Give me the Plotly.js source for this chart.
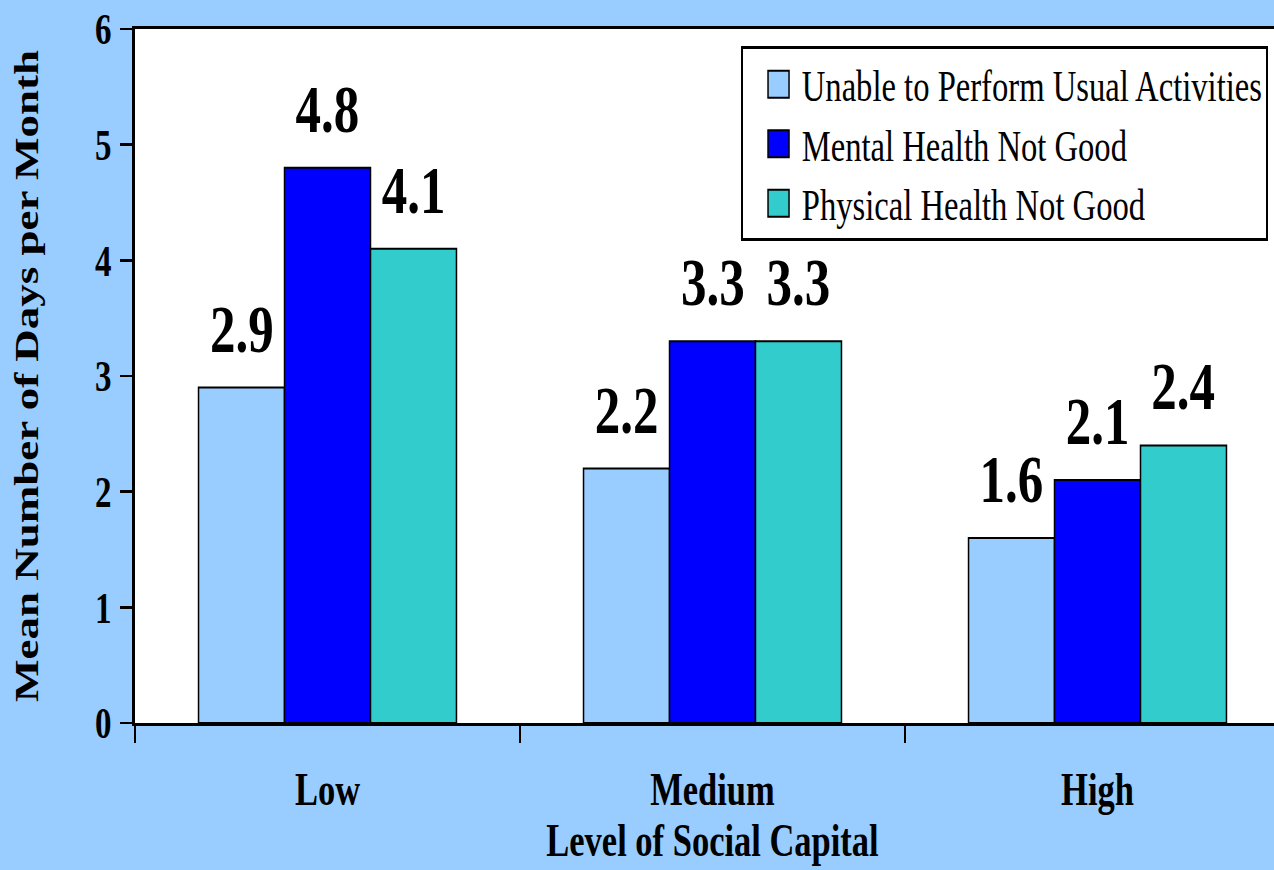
<!DOCTYPE html>
<html>
<head>
<meta charset="utf-8">
<script src="https://cdn.plot.ly/plotly-3.0.1.min.js"></script>
<style>
  html, body { margin: 0; padding: 0; width: 1274px; height: 870px; overflow: hidden; background: #99ccff; }
  /* the chart is laid out wide and squeezed horizontally, giving the condensed slide lettering */
  #chart { width: 1740px; height: 870px; transform: scaleX(0.75); transform-origin: 0 0; }
</style>
</head>
<body>
<div id="chart"></div>
<script>
const levels = ['Low', 'Medium', 'High'];
const seriesNames = ['Unable to Perform Usual Activities', 'Mental Health Not Good', 'Physical Health Not Good'];
const unableDays = [2.9, 2.2, 1.6];
const mentalDays = [4.8, 3.3, 2.1];
const physicalDays = [4.1, 3.3, 2.4];
const seriesColors = ['#99ccff', '#0000ff', '#33cccc'];
const yTicks = [0, 1, 2, 3, 4, 5, 6];

const FONT = '"Liberation Serif", "Times New Roman", Times, serif';
const BAR_GAP = 0.33;
const allSeries = [unableDays, mentalDays, physicalDays];

const traces = allSeries.map((vals, k) => ({
  type: 'bar',
  name: seriesNames[k],
  x: levels,
  y: vals,
  marker: { color: seriesColors[k], line: { color: '#000000', width: 2 } },
  hoverinfo: 'x+y+name'
}));

// value labels sit above each bar, centred on its slot within the group
const barWidth = (1 - BAR_GAP) / allSeries.length;
const annotations = [];
allSeries.forEach((vals, k) => {
  vals.forEach((v, j) => {
    annotations.push({
      xref: 'x', yref: 'y',
      x: j + (k - (allSeries.length - 1) / 2) * barWidth,
      y: v,
      text: v.toFixed(1),
      showarrow: false,
      xanchor: 'center', yanchor: 'bottom',
      yshift: 19,
      font: { family: FONT, size: 68, weight: 'bold', color: '#000000' }
    });
  });
});

const layout = {
  width: 1740, height: 870,
  paper_bgcolor: '#99ccff',
  plot_bgcolor: '#ffffff',
  margin: { l: 180, r: 20, t: 29, b: 147, pad: 0 },
  barmode: 'group',
  bargap: BAR_GAP,
  bargroupgap: 0,
  showlegend: true,
  xaxis: {
    type: 'category',
    showline: true, linecolor: '#000000', linewidth: 3, mirror: true,
    ticks: 'outside', tickson: 'boundaries', ticklen: 17, tickwidth: 2.7, tickcolor: '#000000',
    ticklabelstandoff: 24,
    tickfont: { family: FONT, size: 46, weight: 'bold', color: '#000000' },
    showgrid: false, zeroline: false,
    title: { text: 'Level of Social Capital', standoff: 0,
             font: { family: FONT, size: 46, weight: 'bold', color: '#000000' } }
  },
  yaxis: {
    range: [0, 6],
    tickvals: yTicks,
    ticktext: yTicks.map(String),
    showline: true, linecolor: '#000000', linewidth: 3.5,
    ticks: 'outside', ticklen: 17, tickwidth: 2.5, tickcolor: '#000000',
    ticklabelstandoff: 2,
    tickfont: { family: FONT, size: 44, weight: 'bold', color: '#000000' },
    showgrid: false, zeroline: false,
    title: { text: 'Mean Number of Days per Month', standoff: 62,
             font: { family: FONT, size: 45, weight: 'bold', color: '#000000' } }
  },
  legend: {
    x: 0.5247, xanchor: 'left',
    y: 0.975, yanchor: 'top',
    bgcolor: '#ffffff', bordercolor: '#000000', borderwidth: 3,
    font: { family: FONT, size: 43.5, color: '#000000' },
    itemwidth: 68,
    traceorder: 'normal'
  },
  annotations: annotations
};

Plotly.newPlot('chart', traces, layout, { displayModeBar: false, staticPlot: true }).then(gd => {
  // enlarge the legend swatches to suit the large legend lettering
  gd.querySelectorAll('.legend .legendpoints path').forEach(p => {
    p.setAttribute('d', 'M22,13.5H-6V-13.5H22Z');
  });
});
</script>
</body>
</html>
